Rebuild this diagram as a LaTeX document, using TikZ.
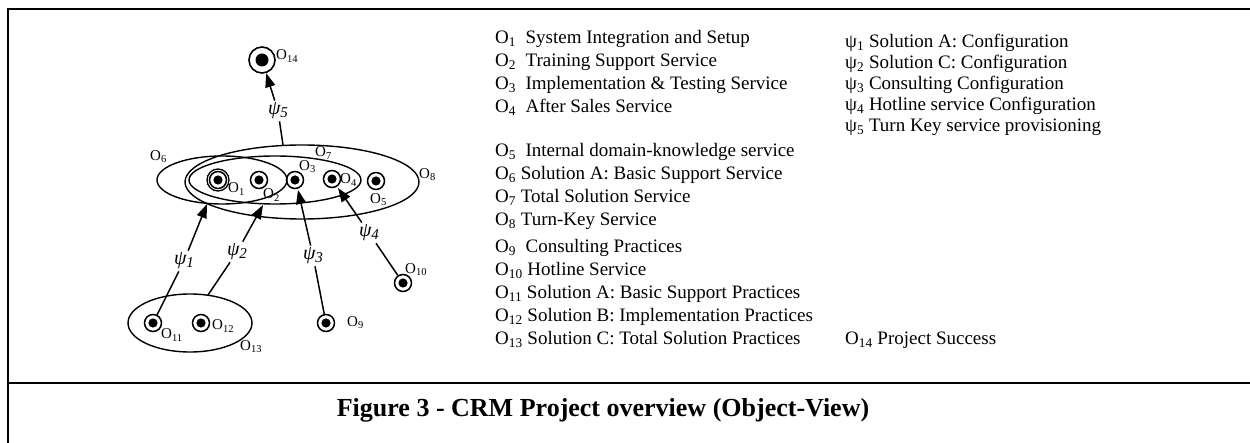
\documentclass[tikz,border=0pt]{standalone}
\usepackage{fontspec}
\setmainfont{Liberation Serif}
\usetikzlibrary{arrows.meta,shapes.geometric}
\newcommand\psilab[1]{ψ\raisebox{-3pt}{\fontsize{15}{15}\selectfont #1}}
\begin{document}
\begin{tikzpicture}[x=1pt,y=-1pt,
  objring/.style={circle,draw,line width=1.5pt,minimum size=17pt,inner sep=0pt,
    path picture={\fill (path picture bounding box.center) circle (4.6pt);}},
  bigring/.style={circle,draw,line width=1.6pt,minimum size=26pt,inner sep=0pt,
    path picture={\fill (path picture bounding box.center) circle (6.5pt);}},
  setell/.style={ellipse,draw,line width=1.4pt,inner sep=0pt},
  olab/.style={font=\fontsize{15}{18}\selectfont,inner sep=0pt,anchor=west},
  leg/.style={font=\fontsize{19}{23}\selectfont,inner sep=0pt,anchor=base west},
  psil/.style={font=\fontsize{20}{24}\selectfont\itshape,inner sep=2pt},
  conn/.style={line width=1.5pt},
  arr/.style={line width=1.5pt,-{Triangle[length=14pt,width=10pt]}},
  framel/.style={line width=2pt}]
\useasboundingbox (0,0) rectangle (1250,443);
% frame
\draw[framel] (1250,9) -- (8,9) -- (8,443);
\draw[framel] (8,383) -- (1250,383);
% sets
\node[setell,minimum width=234pt,minimum height=74pt] (o8) at (302,182) {};
\node[setell,minimum width=172pt,minimum height=48pt] (o7) at (275,180) {};
\node[setell,minimum width=130pt,minimum height=48pt] (o6) at (222,180) {};
\node[setell,minimum width=124pt,minimum height=58pt] (o13) at (190,323) {};
% objects
\node[bigring] (o14) at (262,60) {};
\node[objring] (o1) at (218,180) {};
\draw[line width=1.3pt] (o1.center) circle (11pt);
\node[objring] (o2) at (259,180) {};
\node[objring] (o3) at (295,180) {};
\node[objring] (o4) at (332,179) {};
\node[objring] (o5) at (376,181) {};
\node[objring] (o9) at (326,323) {};
\node[objring] (o10) at (403,283) {};
\node[objring] (o11) at (153,323) {};
\node[objring] (o12) at (201,323) {};
% object labels
\node[olab] (lo14) at (276,56) {O\textsubscript{14}};
\node[olab] (lo1) at (228,189) {O\textsubscript{1}};
\node[olab] (lo2) at (263,195) {O\textsubscript{2}};
\node[olab] (lo3) at (299,167) {O\textsubscript{3}};
\node[olab] (lo4) at (340,180) {O\textsubscript{4}};
\node[olab] (lo5) at (370,200) {O\textsubscript{5}};
\node[olab] (lo6) at (150,157) {O\textsubscript{6}};
\node[olab] (lo7) at (315,153) {O\textsubscript{7}};
\node[olab] (lo8) at (419,175) {O\textsubscript{8}};
\node[olab] (lo9) at (347,323) {O\textsubscript{9}};
\node[olab] (lo10) at (405,270) {O\textsubscript{10}};
\node[olab] (lo11) at (161,335) {O\textsubscript{11}};
\node[olab] (lo12) at (212,326) {O\textsubscript{12}};
\node[olab] (lo13) at (240,347) {O\textsubscript{13}};
% psi labels
\node[psil] (s1) at (184,261) {\psilab{1}};
\node[psil] (s2) at (237,252) {\psilab{2}};
\node[psil] (s3) at (313,256) {\psilab{3}};
\node[psil] (s4) at (369,233) {\psilab{4}};
\node[psil] (s5) at (278,111) {\psilab{5}};
% connector ends
\coordinate (t1) at (207,204);
\coordinate (f2) at (208,295);
\coordinate (t2) at (263,205);
\coordinate (t3) at (298,190);
\coordinate (t4) at (338,188);
\coordinate (f5) at (283,145);
% connectors
\draw[conn] (o11) -- (s1); \draw[arr] (s1) -- (t1);
\draw[conn] (f2) -- (s2);  \draw[arr] (s2) -- (t2);
\draw[conn] (o9) -- (s3);  \draw[arr] (s3) -- (t3);
\draw[conn] (o10) -- (s4); \draw[arr] (s4) -- (t4);
\draw[conn] (f5) -- (s5);  \draw[arr] (s5) -- (o14);
% legend O
\node[leg] (l1) at (495,44) {O\textsubscript{1}\ \ System Integration and Setup};
\node[leg] (l2) at (495,67) {O\textsubscript{2}\ \ Training Support Service};
\node[leg] (l3) at (495,90) {O\textsubscript{3}\ \ Implementation \& Testing Service};
\node[leg] (l4) at (495,113) {O\textsubscript{4}\ \ After Sales Service};
\node[leg] (l5) at (495,157) {O\textsubscript{5}\ \ Internal domain-knowledge service};
\node[leg] (l6) at (495,180) {O\textsubscript{6} Solution A: Basic Support Service};
\node[leg] (l7) at (495,203) {O\textsubscript{7} Total Solution Service};
\node[leg] (l8) at (495,226) {O\textsubscript{8} Turn-Key Service};
\node[leg] (l9) at (495,253) {O\textsubscript{9}\ \ Consulting Practices};
\node[leg] (l10) at (495,276) {O\textsubscript{10} Hotline Service};
\node[leg] (l11) at (495,299) {O\textsubscript{11} Solution A: Basic Support Practices};
\node[leg] (l12) at (495,322) {O\textsubscript{12} Solution B: Implementation Practices};
\node[leg] (l13) at (495,345) {O\textsubscript{13} Solution C: Total Solution Practices};
\node[leg] (l14) at (845,345) {O\textsubscript{14} Project Success};
% legend psi
\node[leg] (p1) at (845,48) {ψ\textsubscript{1} Solution A: Configuration};
\node[leg] (p2) at (845,69) {ψ\textsubscript{2} Solution C: Configuration};
\node[leg] (p3) at (845,90) {ψ\textsubscript{3} Consulting Configuration};
\node[leg] (p4) at (845,111) {ψ\textsubscript{4} Hotline service Configuration};
\node[leg] (p5) at (845,132) {ψ\textsubscript{5} Turn Key service provisioning};
% caption
\node[font=\fontsize{26}{30}\selectfont\bfseries] (cap) at (603,410) {Figure 3 - CRM Project overview (Object-View)};
\end{tikzpicture}
\end{document}
